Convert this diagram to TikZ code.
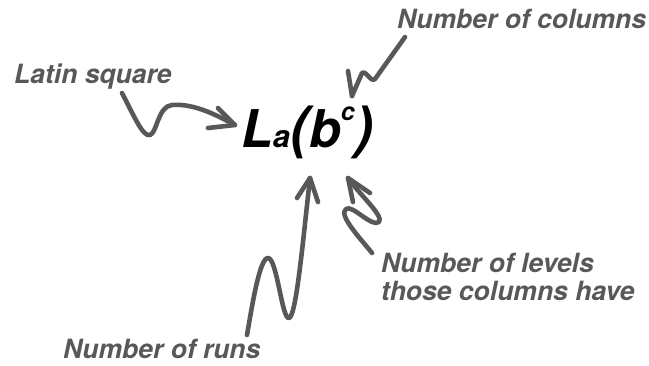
\documentclass[tikz,border=0pt]{standalone}
\usepackage{fontspec}
\setmainfont{TeX Gyre Heros}
\definecolor{ink}{RGB}{88,88,88}
\tikzset{
  lbl/.style={anchor=base west, inner sep=0pt, text=ink, font=\fontsize{26.5}{30}\selectfont\bfseries\itshape},
  sq/.style={draw=ink, line width=4.6pt, line cap=round, line join=round}
}
\begin{document}
\begin{tikzpicture}[x=1pt,y=-1pt]
\useasboundingbox (0,0) rectangle (649,365);
% labels
\node[lbl] (cols) at (397,28) {Number of columns};
\node[lbl] (latin) at (14,83) {Latin square};
\node[lbl] (levels) at (381,272) {Number of levels};
\node[lbl] (those) at (381,300) {those columns have};
\node[lbl] (runs) at (63,358) {Number of runs};
% formula
\node[anchor=base west, inner sep=0pt, font=\bfseries\itshape] (formula) at (241,147)
  {\fontsize{52}{52}\selectfont L\fontsize{31}{31}\selectfont a\fontsize{57}{57}\selectfont(\fontsize{52}{52}\selectfont b\raisebox{27pt}{\fontsize{25}{25}\selectfont c}\fontsize{57}{57}\selectfont)};
% connector end points
\coordinate (latinT) at (122,93);
\coordinate (latinH) at (235,125);
\coordinate (colsT) at (405,37);
\coordinate (colsH) at (352,96);
\coordinate (runsT) at (247,335);
\coordinate (runsH) at (310,178);
\coordinate (levT) at (372,253);
\coordinate (levH) at (348,178);
% Latin square arrow
\draw[sq] (latinT) .. controls (135,118) and (143,137) .. (150,135)
  .. controls (157,133) and (158,106) .. (172,105)
  .. controls (195,103) and (220,117) .. (latinH);
\draw[sq] (218,108) -- (latinH) -- (208,128);
% Number of columns arrow
\draw[sq] (colsT) -- (375,79) .. controls (371,83) and (366,70) .. (362,73) -- (colsH);
\draw[sq] (348,71) -- (colsH);
% Number of runs arrow
\draw[sq] (runsT) .. controls (253,300) and (260,258) .. (268,258)
  .. controls (277,258) and (282,320) .. (289,318)
  .. controls (296,316) and (302,250) .. (runsH);
\draw[sq] (297,198) -- (runsH) -- (318,202);
% Number of levels arrow
\draw[sq] (levT) .. controls (360,238) and (338,215) .. (346,209)
  .. controls (352,204) and (372,228) .. (379,222)
  .. controls (384,216) and (360,195) .. (levH);
\draw[sq] (370,193) -- (levH) -- (353,202);
\end{tikzpicture}
\end{document}
